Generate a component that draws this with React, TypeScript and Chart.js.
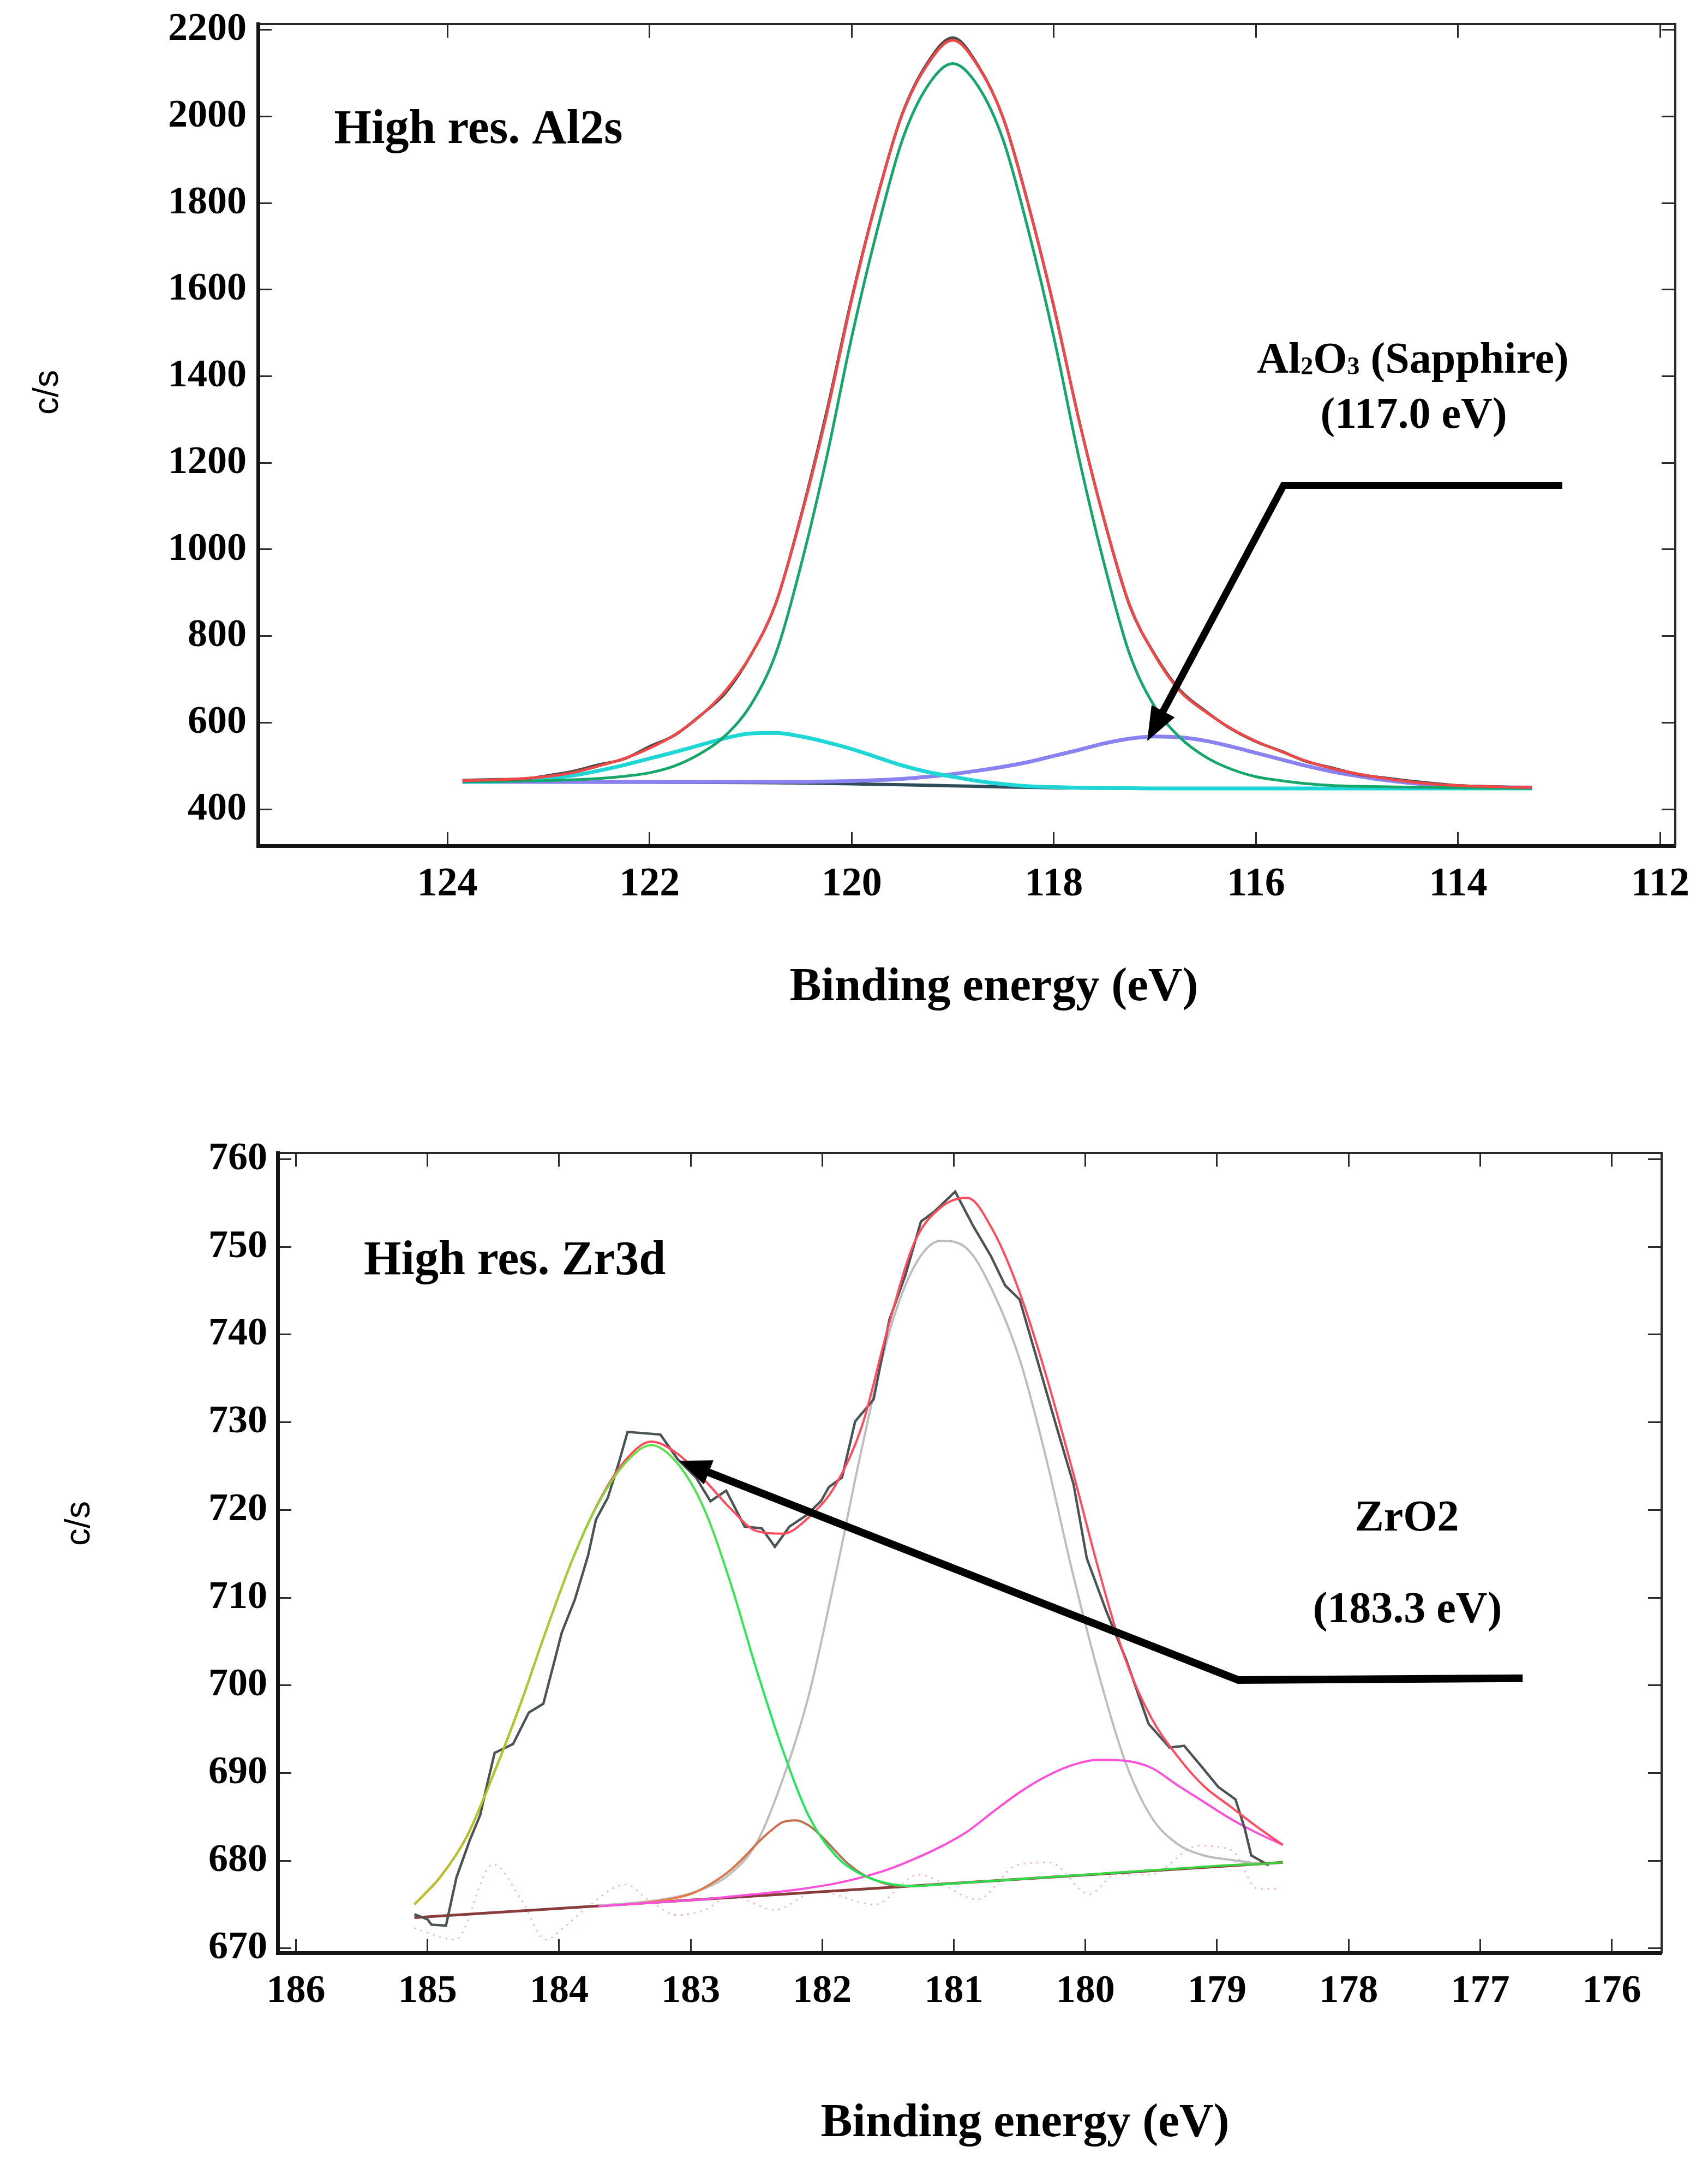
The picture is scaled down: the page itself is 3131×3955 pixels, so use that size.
import React, { useEffect, useRef } from 'react';
import { Chart, registerables } from 'chart.js';

Chart.register(...registerables);

const SERIF = "'Liberation Serif', 'Times New Roman', 'DejaVu Serif', serif";
const SANS = "'Liberation Sans', Arial, 'DejaVu Sans', sans-serif";

// ---------------- Top panel: high-resolution Al2s ----------------
const AL_TICKS_X = [124, 122, 120, 118, 116, 114, 112];
const AL_TICKS_Y = [400, 600, 800, 1000, 1200, 1400, 1600, 1800, 2000, 2200];

const AL_BE = [
  123.85, 123.5, 123.25, 123.0, 122.75, 122.5, 122.25, 122.0, 121.75, 121.5,
  121.25, 121.0, 120.75, 120.5, 120.25, 120.0, 119.75, 119.5, 119.25, 119.0,
  118.75, 118.5, 118.25, 118.0, 117.75, 117.5, 117.25, 117.0, 116.75, 116.5,
  116.25, 116.0, 115.75, 115.5, 115.25, 115.0, 114.75, 114.5, 114.25, 114.0,
  113.75, 113.5, 113.27,
];
// measured counts
const AL_RAW = [
  467, 469, 470, 478, 488, 503, 516, 545, 571, 616,
  668, 755, 876, 1079, 1316, 1580, 1811, 2006, 2124, 2182,
  2118, 1996, 1795, 1560, 1298, 1066, 870, 757, 675, 627,
  586, 556, 534, 510, 496, 481, 473, 466, 460, 455,
  453, 451, 450,
];
// fitted envelope
const AL_ENVELOPE = [
  466, 468, 471, 476, 485, 500, 517, 541, 572, 615,
  673, 755, 876, 1076, 1309, 1576, 1809, 2004, 2120, 2176,
  2116, 1995, 1793, 1562, 1297, 1067, 872, 755, 672, 625,
  587, 557, 533, 511, 494, 482, 472, 464, 458, 454.5,
  452.5, 451, 450,
];
// main component (~119.0 eV)
const AL_MAIN = [
  463.5, 464, 465, 466, 468, 471, 476, 484, 500, 528,
  570, 640, 760, 965, 1210, 1490, 1735, 1945, 2070, 2122,
  2070, 1945, 1735, 1490, 1210, 965, 758, 636, 565, 521,
  493, 475, 466, 459, 455, 453, 452, 451, 450, 449.5,
  449, 448.5, 448,
];
// high-BE component (~120.85 eV)
const AL_HIGH = [
  463, 464, 467, 471, 478, 489, 502, 517, 532, 548,
  564, 575, 576, 568, 555, 539, 520, 501, 486, 475,
  465, 458, 453, 451, 449.5, 449, 448.5, 448, 448, 448,
  448, 448, 448, 448, 448, 448, 448, 448, 448, 448,
  448, 448, 448,
];
// Al2O3 sapphire component (117.0 eV)
const AL_SAPPHIRE = [
  463, 463, 463, 463, 463, 463, 463, 463, 463, 463,
  463, 463, 463, 463, 464, 465, 467, 470, 475, 481,
  489, 498, 509, 523, 537, 552, 563, 568, 566, 558,
  545, 530, 515, 500, 487, 477, 468, 461, 456, 453,
  451.5, 450.5, 450,
];
const AL_BG_BE = [123.85, 122.0, 121.0, 120.5, 120.0, 119.5, 119.0, 118.5, 118.0, 117.5, 117.0, 113.27];
const AL_BG = [463, 462.5, 461.5, 460.5, 458.5, 456.5, 454, 451.5, 449.5, 448.5, 448, 448];

// ---------------- Bottom panel: high-resolution Zr3d ----------------
const ZR_TICKS_X = [186, 185, 184, 183, 182, 181, 180, 179, 178, 177, 176];
const ZR_TICKS_Y = [670, 680, 690, 700, 710, 720, 730, 740, 750, 760];

const ZR_BE = [
  185.1, 184.9, 184.7, 184.5, 184.3, 184.1, 183.9, 183.7, 183.5, 183.3,
  183.1, 182.9, 182.7, 182.5, 182.3, 182.1, 181.9, 181.7, 181.5, 181.3,
  181.1, 180.9, 180.7, 180.5, 180.3, 180.1, 179.9, 179.7, 179.5, 179.3,
  179.1, 178.9, 178.7, 178.5,
];
const ZR_ENVELOPE = [
  675.0, 678.2, 682.8, 689.8, 697.6, 706.2, 714.3, 720.9, 725.6, 727.8,
  726.4, 723.5, 720.2, 717.6, 717.3, 719.2, 722.8, 729.5, 740.8, 750.5,
  754.5, 755.6, 751.8, 744.8, 735.4, 724.6, 713.2, 703.1, 696.3, 691.9,
  688.5, 686.2, 683.9, 681.8,
];
// ZrO2 component (183.3 eV)
const ZR_ZRO2 = [
  675.0, 678.2, 682.8, 689.8, 697.6, 706.2, 714.3, 720.8, 725.3, 727.4,
  725.3, 720.2, 711.8, 701.8, 692.6, 685.0, 680.6, 678.4, 677.4, 677.1,
  677.3, 677.5, 677.7, 677.9, 678.1, 678.3, 678.5, 678.7, 678.9, 679.1,
  679.3, 679.5, 679.6, 679.8,
];
// main component (~181.0 eV)
const ZR_MAIN_BE = [
  183.7, 183.5, 183.3, 183.1, 182.9, 182.7, 182.5, 182.3, 182.1, 181.9,
  181.7, 181.5, 181.3, 181.1, 180.9, 180.7, 180.5, 180.3, 180.1, 179.9,
  179.7, 179.5, 179.3, 179.1, 178.9, 178.7, 178.6,
];
const ZR_MAIN = [
  674.9, 675.1, 675.4, 675.9, 676.8, 678.5, 682.0, 689.3, 699.0, 712.5,
  727.0, 739.8, 747.8, 750.7, 749.8, 744.8, 737.2, 726.0, 713.0, 701.3,
  691.4, 685.0, 681.9, 680.6, 680.1, 679.7, 679.5,
];
// small component (~182.3 eV)
const ZR_SMALL_BE = [
  183.5, 183.4, 183.3, 183.2, 183.1, 183.0, 182.9, 182.8, 182.7, 182.6,
  182.5, 182.4, 182.3, 182.2, 182.1, 182.0, 181.9, 181.8, 181.7, 181.6,
  181.5, 181.4, 181.3, 181.2, 181.1,
];
const ZR_SMALL = [
  675.0, 675.1, 675.3, 675.5, 675.8, 676.2, 676.9, 677.8, 678.9, 680.3,
  681.9, 683.3, 684.4, 684.6, 684.0, 682.7, 681.1, 679.6, 678.5, 677.8,
  677.3, 677.1, 677.1, 677.2, 677.3,
];
// low-BE component (~179.9 eV)
const ZR_LOW_BE = [
  183.7, 183.5, 183.3, 183.1, 182.9, 182.7, 182.5, 182.3, 182.1, 181.9,
  181.7, 181.5, 181.3, 181.1, 180.9, 180.7, 180.5, 180.3, 180.1, 179.9,
  179.7, 179.5, 179.3, 179.1, 178.9, 178.7, 178.5,
];
const ZR_LOW = [
  674.8, 675.0, 675.2, 675.4, 675.6, 675.9, 676.2, 676.5, 676.9, 677.4,
  678.1, 679.0, 680.2, 681.6, 683.3, 685.6, 687.8, 689.6, 690.9, 691.5,
  691.4, 690.6, 688.6, 686.7, 684.8, 683.2, 681.8,
];
const ZR_BG_BE = [185.1, 178.5];
const ZR_BG = [673.5, 679.8];
// measured counts
const ZR_RAW_BE = [
  185.10, 185.00, 184.97, 184.86, 184.78, 184.68, 184.60, 184.55, 184.49, 184.35,
  184.23, 184.12, 184.04, 183.98, 183.88, 183.78, 183.72, 183.63, 183.55, 183.48,
  183.23, 183.10, 182.96, 182.85, 182.73, 182.59, 182.46, 182.36, 182.25, 182.12,
  182.01, 181.95, 181.85, 181.75, 181.61, 181.49, 181.37, 181.25, 181.15, 180.99,
  180.85, 180.72, 180.61, 180.50, 180.37, 180.22, 180.09, 179.99, 179.84, 179.69,
  179.52, 179.36, 179.25, 179.11, 178.99, 178.86, 178.79, 178.74, 178.61,
];
const ZR_RAW = [
  673.9, 673.3, 672.7, 672.6, 678.1, 682.3, 685.2, 688.5, 692.3, 693.3,
  696.9, 697.9, 702.5, 706.0, 709.8, 714.8, 718.9, 721.4, 725.2, 728.9,
  728.6, 725.8, 723.7, 721.0, 722.2, 718.1, 717.9, 715.8, 718.1, 719.4,
  721.0, 722.6, 723.7, 730.1, 732.6, 741.7, 746.7, 752.9, 754.0, 756.3,
  752.3, 749.0, 745.6, 744.0, 737.3, 729.5, 722.9, 714.5, 708.4, 702.9,
  695.6, 692.9, 693.1, 690.6, 688.4, 687.0, 683.7, 680.6, 679.5,
];
// residual (dotted)
const ZR_RESID_BE = [
  185.1, 184.79, 184.5, 184.29, 184.1, 183.97, 183.81, 183.49, 183.33, 183.1,
  182.89, 182.7, 182.36, 182.04, 181.6, 181.27, 180.82, 180.52, 180.27, 179.97,
  179.77, 179.51, 179.14, 178.89, 178.69, 178.54,
];
const ZR_RESID = [
  672.3, 671.0, 679.6, 675.6, 671.0, 672.3, 674.4, 677.3, 675.6, 673.8,
  674.4, 676.0, 674.4, 676.5, 675.0, 678.4, 675.6, 679.5, 679.8, 676.2,
  678.4, 678.4, 681.7, 681.2, 676.8, 676.8,
];

// ---------------- helpers ----------------
const pts = (xs: number[], ys: number[]) => xs.map((x, i) => ({ x, y: ys[i] }));

type Seg = { t: string; sub?: boolean };
type Note = { segs: Seg[]; be: number; cps: number; align: 'left' | 'center'; size: number };
type Arrow = { be: number[]; cps: number[]; width: number; head: number; half: number };
type Titles = { cs: [number, number]; be: [number, number] };

function annotPlugin(notes: Note[], arrow: Arrow, titles: Titles) {
  return {
    id: 'annot',
    afterDraw(chart: any) {
      const ctx: CanvasRenderingContext2D = chart.ctx;
      const xs = chart.scales.x;
      const ys = chart.scales.y;
      ctx.save();
      ctx.fillStyle = '#000';
      ctx.textAlign = 'left';
      ctx.textBaseline = 'alphabetic';
      for (const n of notes) {
        const px = xs.getPixelForValue(n.be);
        const py = ys.getPixelForValue(n.cps);
        const fontFor = (s: Seg) => `bold ${s.sub ? Math.round(n.size * 0.58) : n.size}px ${SERIF}`;
        const widths = n.segs.map((s) => {
          ctx.font = fontFor(s);
          return ctx.measureText(s.t).width;
        });
        const total = widths.reduce((a, b) => a + b, 0);
        let x = n.align === 'center' ? px - total / 2 : px;
        n.segs.forEach((s, i) => {
          ctx.font = fontFor(s);
          ctx.fillText(s.t, x, py + (s.sub ? n.size * 0.04 : 0));
          x += widths[i];
        });
      }
      // arrow
      const P = arrow.be.map((b, i) => [xs.getPixelForValue(b), ys.getPixelForValue(arrow.cps[i])]);
      const [tx, ty] = P[P.length - 1];
      const [bx, by] = P[P.length - 2];
      const L = Math.hypot(tx - bx, ty - by);
      const ux = (tx - bx) / L;
      const uy = (ty - by) / L;
      const hx = tx - ux * arrow.head;
      const hy = ty - uy * arrow.head;
      ctx.strokeStyle = '#000';
      ctx.lineWidth = arrow.width;
      ctx.lineJoin = 'miter';
      ctx.lineCap = 'butt';
      ctx.beginPath();
      ctx.moveTo(P[0][0], P[0][1]);
      for (let i = 1; i < P.length - 1; i++) ctx.lineTo(P[i][0], P[i][1]);
      ctx.lineTo(hx + ux * 4, hy + uy * 4);
      ctx.stroke();
      ctx.beginPath();
      ctx.moveTo(tx, ty);
      ctx.lineTo(hx - uy * arrow.half, hy + ux * arrow.half);
      ctx.lineTo(hx + uy * arrow.half, hy - ux * arrow.half);
      ctx.closePath();
      ctx.fill();
      // axis titles
      ctx.font = `bold 87px ${SERIF}`;
      ctx.textAlign = 'center';
      ctx.fillText('Binding energy (eV)', titles.be[0], titles.be[1]);
      ctx.save();
      ctx.translate(titles.cs[0], titles.cs[1]);
      ctx.rotate(-Math.PI / 2);
      ctx.font = `64px ${SANS}`;
      ctx.textBaseline = 'middle';
      ctx.fillText('c/s', 0, 0);
      ctx.restore();
      ctx.restore();
    },
  };
}

function frameScales(o: {
  xmin: number; xmax: number; xticks: number[]; ymin: number; ymax: number; yticks: number[];
  yWidth: number; xHeight: number; xFont: number; yFont: number; xPad: number; yPad: number;
}) {
  const grid = { drawOnChartArea: false, drawTicks: true, tickLength: -25, tickWidth: 3, tickColor: '#2b2b2b' };
  const setTicks = (vals: number[]) => (s: any) => {
    s.ticks = vals.map((v) => ({ value: v }));
  };
  const labelFont = (size: number) => ({ family: SERIF, size, weight: 'bold' as const });
  return {
    x: {
      type: 'linear', position: 'bottom', min: o.xmin, max: o.xmax, reverse: true,
      afterBuildTicks: setTicks(o.xticks),
      ticks: { autoSkip: false, maxRotation: 0, minRotation: 0, padding: o.xPad, color: '#000', font: labelFont(o.xFont), callback: (v: any) => String(v) },
      grid, border: { display: true, width: 7, color: '#141414' },
      afterFit: (s: any) => { s.height = o.xHeight; s.paddingLeft = 0; s.paddingRight = 0; },
    },
    x2: {
      type: 'linear', position: 'top', min: o.xmin, max: o.xmax, reverse: true,
      afterBuildTicks: setTicks(o.xticks),
      ticks: { display: false },
      grid, border: { display: true, width: 4, color: '#2a2a2a' },
      afterFit: (s: any) => { s.height = 0; s.paddingLeft = 0; s.paddingRight = 0; },
    },
    y: {
      type: 'linear', position: 'left', min: o.ymin, max: o.ymax,
      afterBuildTicks: setTicks(o.yticks),
      ticks: { autoSkip: false, padding: o.yPad, color: '#000', font: labelFont(o.yFont), callback: (v: any) => String(v) },
      grid, border: { display: true, width: 7, color: '#141414' },
      afterFit: (s: any) => { s.width = o.yWidth; s.paddingTop = 0; s.paddingBottom = 0; },
    },
    y2: {
      type: 'linear', position: 'right', min: o.ymin, max: o.ymax,
      afterBuildTicks: setTicks(o.yticks),
      ticks: { display: false },
      grid, border: { display: true, width: 4, color: '#2a2a2a' },
      afterFit: (s: any) => { s.width = 0; s.paddingTop = 0; s.paddingBottom = 0; },
    },
  };
}

function line(data: any[], color: any, width: number, order: number, extra: any = {}) {
  return {
    type: 'line', data, borderColor: color, borderWidth: width, pointRadius: 0, fill: false,
    cubicInterpolationMode: 'monotone', order, ...extra,
  };
}

function hGrad(stops: [number, string][]) {
  return (c: any) => {
    const chart = c.chart;
    if (!chart.chartArea || !chart.scales.x) return stops[0][1];
    const xs = chart.scales.x;
    const x0 = stops[0][0];
    const x1 = stops[stops.length - 1][0];
    const g = chart.ctx.createLinearGradient(xs.getPixelForValue(x0), 0, xs.getPixelForValue(x1), 0);
    stops.forEach(([v, col]) => g.addColorStop((v - x0) / (x1 - x0), col));
    return g;
  };
}

function baseOptions(scales: any, padding: any) {
  return {
    responsive: false,
    maintainAspectRatio: false,
    animation: false,
    devicePixelRatio: 1,
    events: [],
    layout: { padding },
    plugins: { legend: { display: false }, tooltip: { enabled: false }, title: { display: false } },
    scales,
  };
}

function topConfig(): any {
  const datasets = [
    line(pts(AL_BE, AL_ENVELOPE), '#ee4848', 5, 0),
    line(pts(AL_BE, AL_RAW), '#4a4a4a', 5, 1),
    line(pts(AL_BE, AL_MAIN), '#16a66a', 5, 2),
    line(pts(AL_BE, AL_HIGH), '#1fd6d6', 7, 3),
    line(pts(AL_BE, AL_SAPPHIRE), '#8a82ee', 7, 4),
    line(pts(AL_BG_BE, AL_BG), '#2f4c5a', 6, 5),
  ];
  const scales = frameScales({
    xmin: 111.852, xmax: 125.873, xticks: AL_TICKS_X, ymin: 315.6, ymax: 2213.5, yticks: AL_TICKS_Y,
    yWidth: 473, xHeight: 400, xFont: 74, yFont: 72, xPad: 52, yPad: 46,
  });
  return {
    type: 'line',
    data: { datasets },
    options: baseOptions(scales, { left: 0, right: 60, top: 44, bottom: 0 }),
    plugins: [
      annotPlugin(
        [
          { segs: [{ t: 'High res. Al2s' }], be: 125.12, cps: 1938.8, align: 'left', size: 88 },
          { segs: [{ t: 'Al' }, { t: '2', sub: true }, { t: 'O' }, { t: '3', sub: true }, { t: ' (Sapphire)' }], be: 114.448, cps: 1408, align: 'center', size: 80 },
          { segs: [{ t: '(117.0 eV)' }], be: 114.44, cps: 1281, align: 'center', size: 80 },
        ],
        { be: [112.97, 115.727, 117.076], cps: [1148, 1148, 557.5], width: 13, head: 62, half: 24 },
        { cs: [88, 719], be: [1822, 1833] },
      ),
    ],
  };
}

function bottomConfig(): any {
  const datasets = [
    line(pts(ZR_BE, ZR_ZRO2), hGrad([[185.1, '#b9c21c'], [184.0, '#a2d02a'], [183.2, '#5fe04a'], [182.4, '#22e85a'], [178.5, '#3fcf3a']]), 4, 0),
    line(pts(ZR_BE, ZR_ENVELOPE), '#ff4b5c', 4, 1),
    line(pts(ZR_RAW_BE, ZR_RAW), '#4b5353', 4.5, 2, { cubicInterpolationMode: 'default', tension: 0 }),
    line(pts(ZR_LOW_BE, ZR_LOW), '#ff50da', 4, 3),
    line(pts(ZR_SMALL_BE, ZR_SMALL), hGrad([[183.3, '#f07a45'], [182.3, '#c8704a'], [181.3, '#907060']]), 4, 4),
    line(pts(ZR_MAIN_BE, ZR_MAIN), '#bdbdbd', 4, 5),
    line(pts(ZR_BG_BE, ZR_BG), '#8a3c3c', 5, 6, { cubicInterpolationMode: 'default', tension: 0 }),
    line(pts(ZR_RESID_BE, ZR_RESID), 'rgba(232,130,140,0.6)', 3, 7, { borderDash: [3, 9] }),
  ];
  const scales = frameScales({
    xmin: 175.621, xmax: 186.139, xticks: ZR_TICKS_X, ymin: 669.49, ymax: 760.716, yticks: ZR_TICKS_Y,
    yWidth: 509, xHeight: 376, xFont: 72, yFont: 72, xPad: 53, yPad: 44,
  });
  return {
    type: 'line',
    data: { datasets },
    options: baseOptions(scales, { left: 0, right: 85, top: 163, bottom: 0 }),
    plugins: [
      annotPlugin(
        [
          { segs: [{ t: 'High res. Zr3d' }], be: 185.484, cps: 746.9, align: 'left', size: 88 },
          { segs: [{ t: 'ZrO2' }], be: 177.557, cps: 717.65, align: 'center', size: 80 },
          { segs: [{ t: '(183.3 eV)' }], be: 177.553, cps: 707.2, align: 'center', size: 80 },
        ],
        { be: [176.677, 178.838, 183.087], cps: [700.8, 700.6, 725.6], width: 14, head: 58, half: 24 },
        { cs: [146, 842], be: [1879, 1965] },
      ),
    ],
  };
}

export default function App() {
  const topRef = useRef<HTMLCanvasElement>(null);
  const botRef = useRef<HTMLCanvasElement>(null);
  useEffect(() => {
    const c1 = new Chart(topRef.current as HTMLCanvasElement, topConfig());
    const c2 = new Chart(botRef.current as HTMLCanvasElement, bottomConfig());
    return () => {
      c1.destroy();
      c2.destroy();
    };
  }, []);
  return (
    <div style={{ position: 'absolute', left: 0, top: 0, width: 3131, height: 3955, background: '#fff', overflow: 'hidden' }}>
      <canvas ref={topRef} width={3131} height={1950} style={{ position: 'absolute', left: 0, top: 0, width: 3131, height: 1950 }} />
      <canvas ref={botRef} width={3131} height={2005} style={{ position: 'absolute', left: 0, top: 1950, width: 3131, height: 2005 }} />
    </div>
  );
}
